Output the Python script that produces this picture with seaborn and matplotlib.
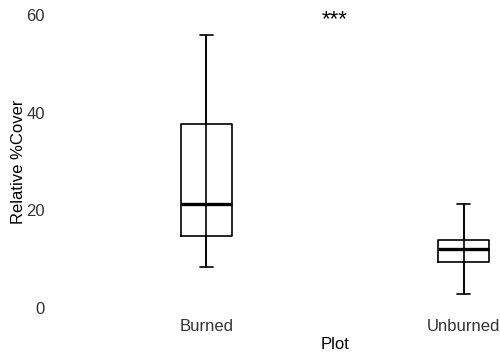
import numpy as np
import pandas as pd
import seaborn as sns
import matplotlib.pyplot as plt

# values (min, q1, median, q3, max)
plots = ["Burned", "Unburned"]
burned = [8.4, 14.8, 21.2, 37.6, 55.9]
unburned = [2.9, 9.4, 12.1, 13.9, 21.3]
y_ticks = [0, 20, 40, 60]

df = pd.DataFrame({
    "Plot": ["Burned"] * len(burned) + ["Unburned"] * len(unburned),
    "cover": burned + unburned,
})

sns.set_style("white")
plt.rcParams["font.family"] = ["Liberation Sans", "DejaVu Sans"]

fig = plt.figure(figsize=(5, 3.53), dpi=100)
ax = fig.add_axes([60 / 500, 45 / 353, 550 / 500, 293 / 353])

sns.boxplot(data=df, x="Plot", y="cover", order=plots, ax=ax,
            width=0.2, fill=False, color="black", whis=(0, 100),
            linewidth=1.2, medianprops=dict(linewidth=2.4),
            zorder=3)

# caps only half as wide as the box
for line in ax.lines:
    xd = np.asarray(line.get_xdata(), dtype=float)
    yd = np.asarray(line.get_ydata(), dtype=float)
    if len(xd) == 2 and yd[0] == yd[1] and line.get_linewidth() < 2:
        if yd[0] in (min(burned), max(burned), min(unburned), max(unburned)):
            mid = xd.mean()
            line.set_xdata(mid + (xd - mid) / 2)

# whisker line runs straight through the box
groups = [burned, unburned]
ax.vlines(range(len(plots)), [np.min(g) for g in groups],
          [np.max(g) for g in groups], color="black", lw=1.2, zorder=2)

ax.set_xlim(-0.57, 1.57)
ax.set_ylim(0, 60)
ax.set_yticks(y_ticks)
ax.tick_params(length=0, labelsize=12, labelcolor="#333333")
ax.tick_params(axis="y", pad=11)
ax.tick_params(axis="x", pad=8)
ax.set_ylabel("Relative %Cover", fontsize=12, labelpad=0, color="black")
ax.set_xlabel("Plot", fontsize=12, labelpad=2, color="black")
ax.set_title("***", fontsize=16, pad=-7, color="black")
sns.despine(ax=ax, left=True, bottom=True)

plt.savefig("out.png", dpi=100)
plt.close()
